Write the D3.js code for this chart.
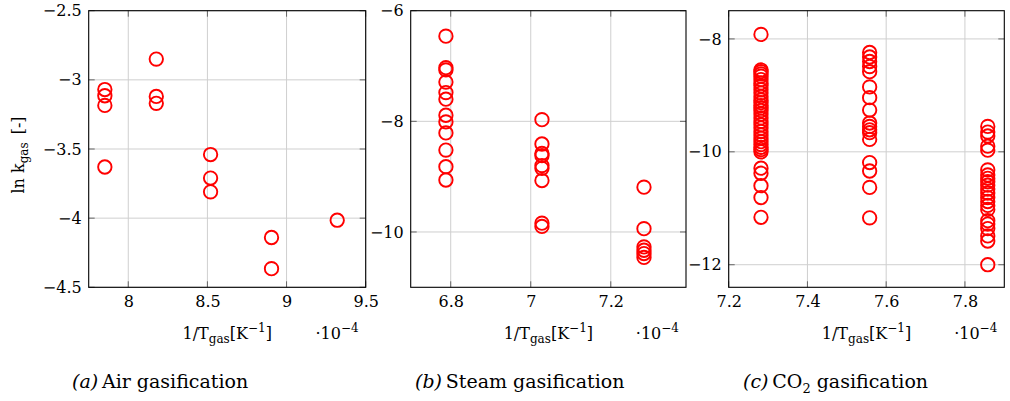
<!DOCTYPE html>
<html>
<head>
<meta charset="utf-8">
<style>
  body { margin: 0; background: #fff; }
  svg text { font-family: "DejaVu Serif", serif; font-size: 16px; fill: #000; }
  .grid line { stroke: #cfcfcf; stroke-width: 1; }
  .tick-mark { stroke: #666; stroke-width: 1; }
  .frame { fill: none; stroke: #000; stroke-width: 1.1; }
  .pt { fill: none; stroke: #ff0000; stroke-width: 1.9; }
  .cap { font-size: 19px; }
</style>
</head>
<body>
<svg id="chart" width="1010" height="401"></svg>
<script src="https://d3js.org/d3.v7.min.js"></script>
<script>
// ---- data (1/T in 1e-4 K^-1, ln k) ----
const airT   = [7.852, 7.852, 7.852, 7.852, 8.177, 8.177, 8.177, 8.52, 8.52, 8.52, 8.905, 8.905, 9.32];
const airLnK = [-3.07, -3.115, -3.185, -3.63, -2.85, -3.12, -3.17, -3.54, -3.71, -3.81, -4.14, -4.365, -4.015];

const steamT = [6.788, 6.788, 6.788, 6.788, 6.788, 6.788, 6.788, 6.788, 6.788, 6.788, 6.788, 6.788,
                7.028, 7.028, 7.028, 7.028, 7.028, 7.028, 7.028, 7.028, 7.028,
                7.283, 7.283, 7.283, 7.283, 7.283, 7.283];
const steamLnK = [-6.46, -7.03, -7.07, -7.29, -7.48, -7.6, -7.89, -8.01, -8.21, -8.52, -8.82, -9.06,
                  -7.97, -8.41, -8.58, -8.62, -8.8, -8.85, -9.07, -9.84, -9.9,
                  -9.19, -9.94, -10.27, -10.33, -10.39, -10.46];

const co2T1 = 7.282, co2T2 = 7.558, co2T3 = 7.858;
const co2LnK1 = [-7.92, -8.55, -8.58, -8.62, -8.66, -8.72, -8.78, -8.83, -8.9, -8.96, -9.02, -9.08,
                 -9.13, -9.18, -9.22, -9.27, -9.33, -9.4, -9.46, -9.52, -9.58, -9.64, -9.7, -9.76,
                 -9.82, -9.87, -9.92, -9.96, -10.0, -10.29, -10.38, -10.6, -10.81, -11.16];
const co2LnK2 = [-8.24, -8.32, -8.4, -8.49, -8.58, -8.85, -9.04, -9.26, -9.49, -9.55, -9.61, -9.66,
                 -9.78, -10.19, -10.34, -10.63, -11.17];
const co2LnK3 = [-9.55, -9.65, -9.72, -9.9, -9.97, -10.32, -10.41, -10.47, -10.53, -10.59, -10.66,
                 -10.73, -10.81, -10.88, -10.95, -11.02, -11.22, -11.28, -11.36, -11.49, -11.58, -12.0];

const airXTicks = [8, 8.5, 9, 9.5],   airYTicks = [-4.5, -4, -3.5, -3, -2.5];
const steamXTicks = [6.8, 7, 7.2],    steamYTicks = [-10, -8, -6];
const co2XTicks = [7.2, 7.4, 7.6, 7.8], co2YTicks = [-12, -10, -8];

const svg = d3.select("#chart");
const fmt = d => (d < 0 ? "\u2212" : "") + Math.abs(d);

function panel(p) {
  const x = d3.scaleLinear().domain(p.xDom).range([p.x0, p.x1]);
  const y = d3.scaleLinear().domain(p.yDom).range([p.y1, p.y0]);
  const g = svg.append("g");

  const grid = g.append("g").attr("class", "grid");
  grid.selectAll(".gx").data(p.xTicks).enter().append("line")
    .attr("x1", d => x(d)).attr("x2", d => x(d)).attr("y1", p.y0).attr("y2", p.y1);
  grid.selectAll(".gy").data(p.yTicks).enter().append("line")
    .attr("y1", d => y(d)).attr("y2", d => y(d)).attr("x1", p.x0).attr("x2", p.x1);

  // inward tick marks on all four sides
  const tl = 6;
  p.xTicks.forEach(t => {
    g.append("line").attr("class", "tick-mark").attr("x1", x(t)).attr("x2", x(t)).attr("y1", p.y1).attr("y2", p.y1 - tl);
    g.append("line").attr("class", "tick-mark").attr("x1", x(t)).attr("x2", x(t)).attr("y1", p.y0).attr("y2", p.y0 + tl);
  });
  p.yTicks.forEach(t => {
    g.append("line").attr("class", "tick-mark").attr("y1", y(t)).attr("y2", y(t)).attr("x1", p.x0).attr("x2", p.x0 + tl);
    g.append("line").attr("class", "tick-mark").attr("y1", y(t)).attr("y2", y(t)).attr("x1", p.x1).attr("x2", p.x1 - tl);
  });

  g.append("rect").attr("class", "frame")
    .attr("x", p.x0).attr("y", p.y0).attr("width", p.x1 - p.x0).attr("height", p.y1 - p.y0);

  // tick labels via d3 axes (no tick lines, domain hidden)
  const ax = g.append("g").attr("transform", `translate(0,${p.y1})`)
    .call(d3.axisBottom(x).tickValues(p.xTicks).tickFormat(fmt).tickSize(0).tickPadding(8));
  const ay = g.append("g").attr("transform", `translate(${p.x0},0)`)
    .call(d3.axisLeft(y).tickValues(p.yTicks).tickFormat(fmt).tickSize(0).tickPadding(7));
  [ax, ay].forEach(a => {
    a.select(".domain").remove();
    a.selectAll("text").attr("font-family", null).attr("font-size", null).attr("fill", null);
    a.attr("font-family", null).attr("font-size", null);
  });

  g.selectAll(".pt").data(p.pts).enter().append("circle")
    .attr("class", "pt").attr("r", 6.7)
    .attr("cx", d => x(d[0])).attr("cy", d => y(d[1]));

  // x title
  const cx = (p.x0 + p.x1) / 2;
  const xt = g.append("text").attr("x", cx).attr("y", 339).attr("text-anchor", "middle");
  xt.append("tspan").text("1/T");
  xt.append("tspan").attr("dy", 4).attr("font-size", 12).text("gas");
  xt.append("tspan").attr("dy", -4).text("[K");
  xt.append("tspan").attr("dy", -7).attr("font-size", 12).text("\u22121");
  xt.append("tspan").attr("dy", 7).text("]");

  const sc = g.append("text").attr("x", p.x1 - 7).attr("y", 339).attr("text-anchor", "end");
  sc.append("tspan").text("\u00b710");
  sc.append("tspan").attr("dy", -7).attr("font-size", 12).text("\u22124");

  // caption
  const cap = g.append("text").attr("class", "cap").attr("x", p.capX).attr("y", 388);
  cap.append("tspan").attr("font-style", "italic").text(p.capTag);
  p.capText.forEach(s => {
    const t = cap.append("tspan").text(s.t);
    if (s.sub) t.attr("dy", 5).attr("font-size", 13);
    if (s.back) t.attr("dy", -5);
  });
}

panel({
  x0: 88.7, x1: 365.7, y0: 10.7, y1: 287.3,
  xDom: [7.75, 9.5], yDom: [-4.5, -2.5],
  xTicks: airXTicks, yTicks: airYTicks,
  pts: airT.map((t, i) => [t, airLnK[i]]),
  capX: 72, capTag: "(a)", capText: [{ t: "\u2009Air gasification" }]
});

panel({
  x0: 410.7, x1: 686, y0: 10.7, y1: 287.3,
  xDom: [6.7, 7.388], yDom: [-11, -6],
  xTicks: steamXTicks, yTicks: steamYTicks,
  pts: steamT.map((t, i) => [t, steamLnK[i]]),
  capX: 415, capTag: "(b)", capText: [{ t: "\u2009Steam gasification" }]
});

panel({
  x0: 728.7, x1: 1004.3, y0: 10.7, y1: 287.3,
  xDom: [7.2, 7.9], yDom: [-12.4, -7.5],
  xTicks: co2XTicks, yTicks: co2YTicks,
  pts: co2LnK1.map(v => [co2T1, v]).concat(co2LnK2.map(v => [co2T2, v]), co2LnK3.map(v => [co2T3, v])),
  capX: 743, capTag: "(c)", capText: [{ t: "\u2009CO" }, { t: "2", sub: true }, { t: " gasification", back: true }]
});

// y-axis title (only on the first panel)
const yl = svg.append("text").attr("transform", "translate(24,155) rotate(-90)")
  .attr("text-anchor", "middle").attr("font-size", 17);
yl.append("tspan").text("ln k");
yl.append("tspan").attr("dy", 4).attr("font-size", 12).text("gas");
yl.append("tspan").attr("dy", -4).text("\u2002[-]");
</script>
</body>
</html>
